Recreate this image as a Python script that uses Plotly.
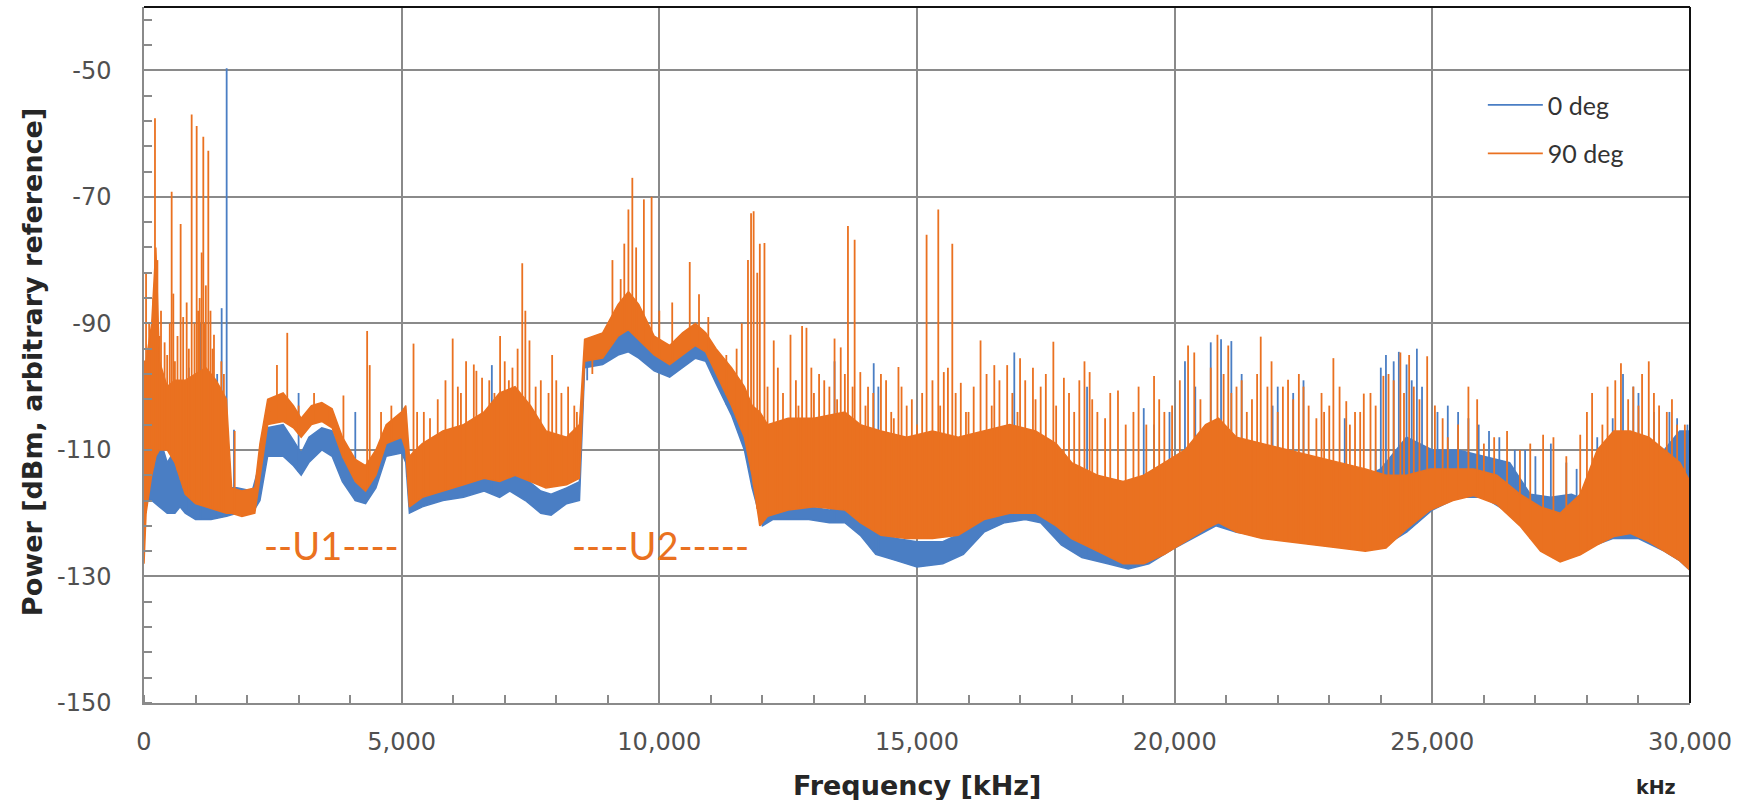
import numpy as np
import plotly.graph_objects as go

# ---------------- data ----------------
# 0 deg (blue) : dense band lower / upper envelope, dBm
blue_f = [0, 150, 300, 450, 600, 700, 800, 1000, 1300, 1600, 1800, 2100, 2250, 2400, 2700, 2900,
          3050, 3200, 3450, 3650, 3850, 4100, 4300, 4500, 4700, 5000, 5080, 5150, 5400, 5800,
          6200, 6600, 6900, 7100, 7400, 7700, 7900, 8200, 8450, 8550, 8900, 9200, 9400, 9600,
          9900, 10200, 10450, 10700, 10900, 11100, 11400, 11650, 11800, 12000, 12200, 12500,
          12900, 13300, 13600, 13900, 14200, 14600, 15000, 15500, 15900, 16300, 16700, 17100,
          17400, 17800, 18200, 18700, 19100, 19500, 20000, 20800, 21200, 22000, 23000, 24000,
          24500, 25000, 25500, 26000, 26500, 26900, 27300, 27700, 28000, 28500, 29000, 29500,
          29800, 30000]
blue_lo = [-118, -118, -119, -120, -120, -119, -120, -121, -121, -120.5, -120, -120, -118, -111,
           -111, -112.5, -114, -112, -110, -111, -115, -118, -118.5, -116, -111, -110.5, -112,
           -120, -119, -118, -117.5, -116.5, -117.5, -116.5, -118, -120, -120.3, -118.5, -118,
           -97, -96.5, -95, -94.5, -95.5, -97.5, -98.5, -97, -95.5, -96, -99.5, -104.5, -110,
           -116, -122, -121, -121, -121, -121.5, -121.5, -123.5, -126.5, -127.5, -128.5, -128,
           -126.5, -123, -121.5, -121, -121.5, -125, -127, -128, -128.8, -128, -125.5, -122,
           -123, -124, -125, -125.5, -123, -119.5, -117.5, -117.5, -120, -123, -126, -126.5,
           -125.5, -124, -124, -126, -127.5, -129]
blue_hi = [-105, -100, -108, -112, -110, -106.5, -110, -115, -116, -116, -116, -116.5, -112,
           -106.5, -106, -108.5, -110.5, -108, -106.5, -107, -111, -114.5, -115, -112, -108.5,
           -107.5, -109, -116, -116, -115, -114.5, -111, -114, -112.5, -114.5, -116.5, -117,
           -116, -115, -94.5, -94, -90.5, -89, -90.5, -95, -96, -94, -92.5, -93.5, -97.5, -102,
           -107, -112, -118, -119, -118.5, -119, -119.5, -119, -120.5, -123, -124, -124.5,
           -124.5, -123, -120.5, -119.5, -119, -119.5, -122, -124, -125, -125.5, -125.5, -118,
           -110, -114, -116, -117, -113, -108, -110, -110, -111, -112, -117, -117.5, -117, -118,
           -115, -112, -110, -107, -107]

# 90 deg (orange) : dense band lower / upper envelope, dBm
orange_f = [0, 40, 150, 230, 300, 450, 600, 800, 1000, 1200, 1400, 1600, 1700, 1900, 2150, 2250,
            2400, 2700, 2900, 3050, 3250, 3450, 3650, 3850, 4100, 4300, 4500, 4700, 5000, 5080,
            5150, 5400, 5800, 6200, 6600, 6900, 7200, 7500, 7800, 8200, 8450, 8550, 8900, 9200,
            9400, 9600, 9900, 10200, 10450, 10700, 10900, 11100, 11400, 11650, 11800, 11950,
            12100, 12500, 13000, 13600, 13900, 14300, 14800, 15300, 15800, 16300, 16800, 17300,
            17700, 18000, 18500, 19000, 19400, 19800, 20200, 20600, 20850, 21200, 21700, 22200,
            22700, 23200, 23700, 24100, 24500, 24960, 25400, 25800, 26250, 26700, 27100, 27480,
            27870, 28200, 28520, 28840, 29200, 29490, 29800, 30000]
orange_lo = [-128, -120, -114, -111, -110, -110, -112, -117, -118.5, -119, -119.5, -120, -120,
             -120.5, -120, -114, -106, -105.5, -106.5, -108, -106, -105.5, -106.5, -111, -115,
             -116.5, -114, -109, -108, -110, -119, -117.5, -116.5, -115.5, -114.5, -115, -114,
             -115, -116, -115.5, -114.5, -96, -95.5, -92, -91, -92.5, -95, -96.5, -95, -93.5,
             -94.5, -98, -103, -108, -114, -122, -120.5, -119.5, -119, -119.5, -121.5, -123.5,
             -124, -124, -123.5, -121, -120, -120, -122, -124, -126, -128, -128, -126.5, -124.5,
             -122.5, -121.5, -123, -124, -124.5, -125, -125.5, -126, -125.5, -122.5, -119.5,
             -118, -117.2, -118.6, -122, -126, -127.7, -126.6, -125, -123.7, -123.2, -124.5,
             -126, -127.5, -129]
orange_hi = [-96, -96, -90, -78, -96, -100, -99, -99, -98, -97, -99, -102, -116, -116.5, -116,
             -109, -102, -101, -103, -105, -103, -102.5, -103.5, -108, -111.5, -112.5, -110,
             -106, -104, -103, -111, -109, -107, -106, -104, -101, -100, -103, -107, -108, -106,
             -92.5, -91.5, -87, -85, -87, -92, -93.5, -91.5, -90, -91.5, -94, -97, -100, -103,
             -104, -106, -105, -105, -104, -106, -107, -108, -107, -108, -107, -106, -107, -109,
             -112, -114, -115, -114, -112, -110, -106, -105, -108, -109, -110, -111, -112, -113,
             -114, -114, -113, -113, -113, -114, -117, -119, -120, -117, -110, -107, -107, -108,
             -110, -112, -115]

# narrow spectral lines: (frequency kHz, peak dBm)
blue_spike_f = [870, 1100, 1420, 1507, 1604, 1746, 3000, 4100, 5100, 6750, 8600, 11300, 13400,
                14160, 14250, 16888, 18300, 19400, 19900, 20200, 20700, 20900, 21100, 21300,
                22000, 22300, 22500, 23900, 24000, 24100, 24250, 24350, 24500, 24700, 24800,
                25100, 25300, 25500, 25900, 26100, 26300, 26600, 26800, 27000, 27300, 27600,
                28200, 28500, 28700, 29000, 29300, 29600, 29950, 19600, 20400, 21900, 23300,
                24600, 25700, 27800, 28900, 29750]
blue_spike_p = [-97, -90, -98, -87.6, -49.7, -106.8, -101, -104, -107, -96.6, -99, -96, -96,
                -96.3, -100, -94.6, -100, -103.4, -104, -96, -93, -92.5, -92.8, -98, -100, -101,
                -99, -110, -97, -95, -96, -94.5, -96.5, -94, -100, -104, -103, -104, -106, -107,
                -108, -110, -110, -111, -109, -112, -108, -105, -98, -101, -104, -104, -106,
                -106, -100, -103, -105, -99, -105, -113, -100, -105]

orange_spike_f = [40, 213, 260, 330, 450, 537, 569, 650, 711, 760, 828, 925, 980, 1022, 1080,
                  1119, 1151, 1200, 1248, 1290, 1358, 1450, 1760, 2450, 2580, 2780, 3000, 3300,
                  3600, 3870, 4330, 4380, 4600, 4800, 5230, 5430, 5550, 5990, 6090, 6250, 6400,
                  6450, 6560, 6910, 7080, 7340, 7400, 7480, 7600, 7920, 8000, 8230, 8350, 8700,
                  9090, 9250, 9320, 9400, 9476, 9550, 9700, 9850, 10000, 10250, 10590, 10770,
                  10950, 11300, 11500, 11600, 11720, 11780, 11830, 11900, 11950, 12040, 12220,
                  12545, 12770, 12855, 12950, 13200, 13400, 13520, 13660, 13790, 13900, 14050,
                  14300, 14500, 14640, 14800, 15186, 15413, 15520, 15600, 15685, 15850, 16000,
                  16233, 16500, 16750, 17000, 17250, 17400, 17646, 17850, 18050, 18250, 18350,
                  18500, 18900, 19050, 19600, 19800, 20260, 20380, 20500, 20830, 21040, 21200,
                  21400, 21670, 21880, 22200, 22410, 22600, 22900, 23080, 23330, 23500, 23670,
                  23800, 24150, 24050, 24380, 24550, 24640, 24900, 25200, 25700, 25870, 26450,
                  27150, 27350, 27870, 28300, 28660, 28800, 29070, 29200, 29400, 29750, 29900,
                  # dense forest lines
                  100, 180, 300, 400, 500, 600, 870, 1050, 1180, 1330, 1500, 1550,
                  5300, 5700, 5850, 6150, 6700, 6800, 7000, 7150, 7250, 7700, 7850, 8100, 8400,
                  12100, 12300, 12400, 12650, 12700, 13000, 13100, 13300, 13450, 13600, 13750,
                  14000, 14150, 14400, 14550, 14700, 14900, 15000, 15100, 15300, 15450, 15750,
                  15950, 16100, 16350, 16450, 16600, 16850, 16950, 17100, 17300, 17500, 17700,
                  17950, 18150, 18400, 18650, 18750, 19200, 19300, 19450, 19700, 19950, 20100,
                  20700, 20950, 21100, 21300, 21500, 21600, 21800, 22000, 22100, 22300, 22500,
                  22750, 22850, 23000, 23200, 23400, 23600, 23900, 24250, 24450, 24750, 25050,
                  25300, 25500, 26000, 26200, 26700, 26900, 27600, 28000, 28100, 28400, 28550,
                  28900, 29000, 29300, 29550, 29650]
orange_spike_p = [-82, -57.6, -80, -88, -95, -69.2, -85.3, -92, -74.3, -89, -86.7, -57, -90,
                  -58.8, -86, -78.8, -60.5, -84, -62.7, -88, -91.8, -100, -107, -104, -96.6,
                  -91.5, -103, -101, -103.5, -101.4, -91.2, -96.6, -104, -103, -93.2, -104, -105,
                  -92.4, -100, -96, -96.5, -97.5, -98.6, -92, -99, -80.5, -88, -92.7, -100, -95,
                  -99, -100, -103, -98, -80, -83, -77.4, -72, -67, -78, -70.4, -70, -88, -86.7,
                  -80.3, -85.4, -89, -95, -94, -90, -80, -72.6, -72.3, -82, -77.4, -77.3, -92.7,
                  -91.8, -90.4, -90.7, -97, -99, -92.4, -93.8, -74.6, -76.8, -97.7, -100, -98,
                  -104, -96.9, -103, -76, -72, -97.7, -97, -77.4, -99.4, -104, -92.7, -96.6,
                  -96.6, -95.5, -97, -100, -92.9, -98.6, -104, -96, -97.7, -104, -100.6, -106,
                  -98.3, -104, -93.5, -94.6, -102, -91.8, -93.5, -100, -104, -92.1, -96, -98.9,
                  -98, -103, -104, -95.5, -102.3, -104, -101.1, -101, -98, -98.3, -94.6, -95,
                  -100, -95.2, -105, -100, -102, -107, -107.6, -108, -107.6, -106, -96.3, -102,
                  -98, -96, -103, -106, -106,
                  -90, -86, -92, -93, -90, -96, -94, -88, -90, -94, -96, -98,
                  -104, -102, -99, -101, -99, -101, -96, -97, -94, -99, -101, -101, -104,
                  -100, -97, -101, -99, -103, -101, -98, -100, -102, -98, -100,
                  -103, -101, -99, -105, -100, -102, -106, -101, -99, -103, -101,
                  -104, -100, -98, -103, -99, -101, -104, -99, -102, -98, -103,
                  -101, -99, -102, -105, -101, -104, -100, -106, -102, -103, -99,
                  -97, -98, -101, -99, -102, -98, -100, -104, -100, -102, -100,
                  -105, -101, -103, -100, -106, -104, -103, -99, -101, -102, -103,
                  -108, -106, -109, -108, -110, -109, -111, -104, -101, -100, -99,
                  -100, -103, -101, -104, -102]

x_tick_vals = [0, 5000, 10000, 15000, 20000, 25000, 30000]
x_tick_text = ["0", "5,000", "10,000", "15,000", "20,000", "25,000", "30,000"]
y_tick_vals = [-150, -130, -110, -90, -70, -50]
y_tick_text = ["-150", "-130", "-110", "-90", "-70", "-50"]

series_names = ["0 deg", "90 deg"]
BLUE = "#4a7ec4"
ORANGE = "#ea7120"

# ---------------- figure ----------------
fig = go.Figure()


def add_series(name, color, fq, lo, hi, sf, sp):
    fq = np.asarray(fq, float)
    lo = np.asarray(lo, float)
    hi = np.asarray(hi, float)
    fig.add_trace(go.Scatter(
        x=np.concatenate([fq, fq[::-1]]), y=np.concatenate([hi, lo[::-1]]),
        fill="toself", fillcolor=color, mode="lines",
        line=dict(color=color, width=1.5), hoverinfo="skip",
        showlegend=False, legendgroup=name))
    xs, ys = [], []
    for f, p in zip(sf, sp):
        base = float(np.interp(f, fq, lo))
        xs += [f, f, None]
        ys += [base, p, None]
    fig.add_trace(go.Scatter(
        x=xs, y=ys, mode="lines", name=name, legendgroup=name,
        line=dict(color=color, width=1.8)))


add_series(series_names[0], BLUE, blue_f, blue_lo, blue_hi, blue_spike_f, blue_spike_p)
add_series(series_names[1], ORANGE, orange_f, orange_lo, orange_hi, orange_spike_f, orange_spike_p)

GRID = "#8a8a8a"
tick_font = dict(family="DejaVu Sans", size=24, color="#505050")

fig.update_xaxes(
    range=[0, 30000], tickvals=x_tick_vals, ticktext=x_tick_text,
    showgrid=True, gridcolor=GRID, gridwidth=1.5,
    showline=True, linecolor=GRID, linewidth=1.5,
    ticks="", tickfont=tick_font, ticklabelstandoff=16,
    minor=dict(dtick=1000, tick0=0, ticks="inside", ticklen=8, tickcolor=GRID, tickwidth=1.5,
               showgrid=False),
    zeroline=False, fixedrange=True)
fig.update_yaxes(
    range=[-150, -40], tickvals=y_tick_vals, ticktext=y_tick_text,
    showgrid=True, gridcolor=GRID, gridwidth=1.5,
    showline=True, linecolor=GRID, linewidth=1.5,
    ticks="", tickfont=tick_font, ticklabelstandoff=26,
    minor=dict(dtick=4, tick0=-150, ticks="inside", ticklen=8, tickcolor=GRID, tickwidth=1.5,
               showgrid=False),
    zeroline=False, fixedrange=True)

# top and right frame (black)
fig.add_shape(type="line", xref="paper", yref="paper", x0=0, x1=1, y0=1, y1=1,
              line=dict(color="#111111", width=2))
fig.add_shape(type="line", xref="paper", yref="paper", x0=1, x1=1, y0=0, y1=1,
              line=dict(color="#111111", width=2))

title_font = dict(family="DejaVu Sans", size=27, color="#262626", weight="bold")
fig.add_annotation(text="Power [dBm, arbitrary reference]", xref="paper", yref="paper",
                   x=-0.083, y=0.49, textangle=-90, showarrow=False, font=title_font)
fig.add_annotation(text="Frequency [kHz]", xref="paper", yref="paper",
                   x=0.5, y=-0.143, showarrow=False, font=title_font)
fig.add_annotation(text="kHz", xref="paper", yref="paper", x=0.992, y=-0.14,
                   showarrow=False,
                   font=dict(family="DejaVu Sans", size=19, color="#262626", weight="bold"))

u_font = dict(family="Lato", size=38, color=ORANGE)
fig.add_annotation(text="--U1----", x=3629, y=-125.1, showarrow=False, font=u_font)
fig.add_annotation(text="----U2-----", x=10014, y=-125.1, showarrow=False, font=u_font)

fig.update_layout(
    width=1745, height=800,
    margin=dict(l=144, r=55, t=7, b=97),
    plot_bgcolor="white", paper_bgcolor="white",
    showlegend=True,
    legend=dict(x=0.866, y=0.892, xanchor="left", yanchor="top",
                bgcolor="rgba(255,255,255,0)", tracegroupgap=13, itemwidth=55,
                font=dict(family="Lato", size=25, color="#333333")),
)

fig.write_html("out.html")
